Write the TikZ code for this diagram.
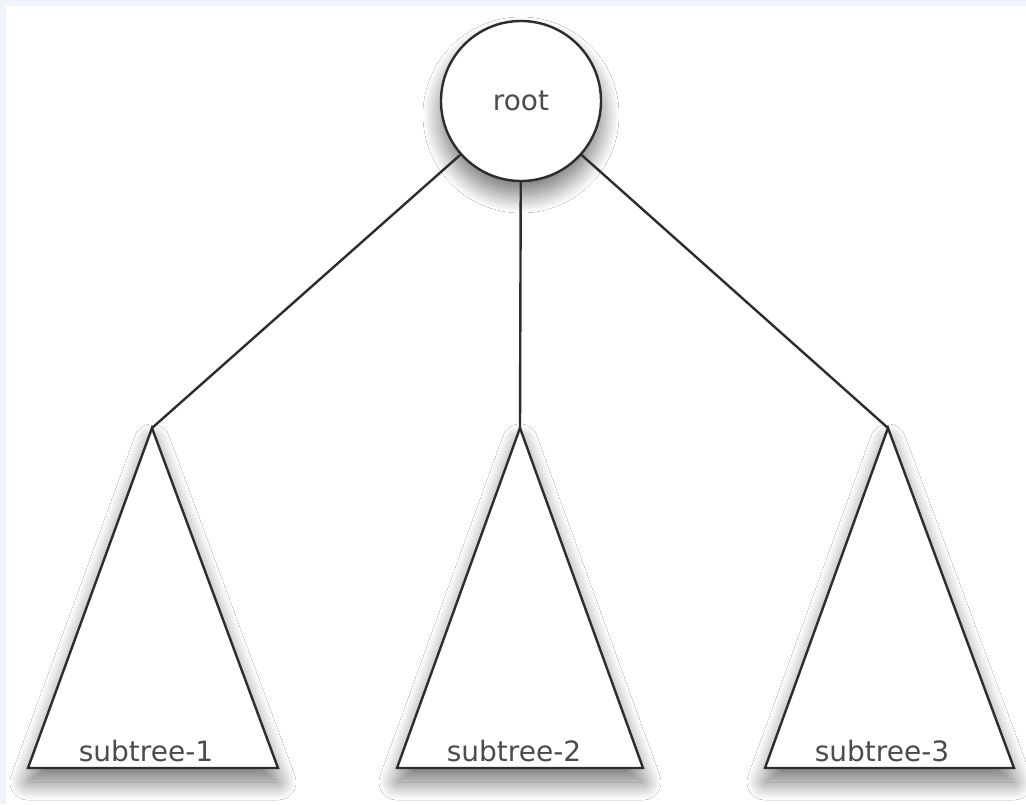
\documentclass[tikz,border=0pt]{standalone}
\usepackage{fontspec}
\setmainfont{DejaVu Sans}
\usetikzlibrary{shadows.blur}
\definecolor{frameblue}{RGB}{238,244,249}
\definecolor{inkline}{RGB}{45,45,45}
\definecolor{inktext}{RGB}{75,75,75}
\tikzset{
  edge/.style={draw=inkline, line width=2.4pt},
  shade/.style={blur shadow={shadow xshift=0pt, shadow yshift=-14pt, shadow blur radius=18pt, shadow blur steps=25, shadow opacity=55}},
  rootnode/.style={circle, draw=inkline, line width=2.4pt, fill=white, minimum size=160pt, inner sep=0pt, shade, font=\fontsize{28}{32}\selectfont, text=inktext},
  tri/.style={draw=inkline, line width=2.4pt, fill=white, line join=miter, shade},
  lbl/.style={anchor=base, font=\fontsize{28}{32}\selectfont, text=inktext, inner sep=0pt}
}
\begin{document}
\begin{tikzpicture}[x=1pt,y=-1pt]
  \fill[frameblue] (0,0) rectangle (1026,804);
  \fill[white] (6,6) rectangle (1026,804);
  \useasboundingbox (0,0) rectangle (1026,804);
  % apexes
  \coordinate (a1) at (152,428);
  \coordinate (a2) at (520,428);
  \coordinate (a3) at (888,428);
  % triangles
  \path[tri] (a1) -- (28,768) -- (278,768) -- cycle;
  \path[tri] (a2) -- (397,768) -- (643,768) -- cycle;
  \path[tri] (a3) -- (765,768) -- (1014,768) -- cycle;
  % labels
  \node[lbl] (s1) at (146,761) {subtree-1};
  \node[lbl] (s2) at (514,761) {subtree-2};
  \node[lbl] (s3) at (882,761) {subtree-3};
  % root
  \node[rootnode] (root) at (521,101) {root};
  % edges
  \draw[edge] (root) -- (a1);
  \draw[edge] (root) -- (a2);
  \draw[edge] (root) -- (a3);
\end{tikzpicture}
\end{document}
